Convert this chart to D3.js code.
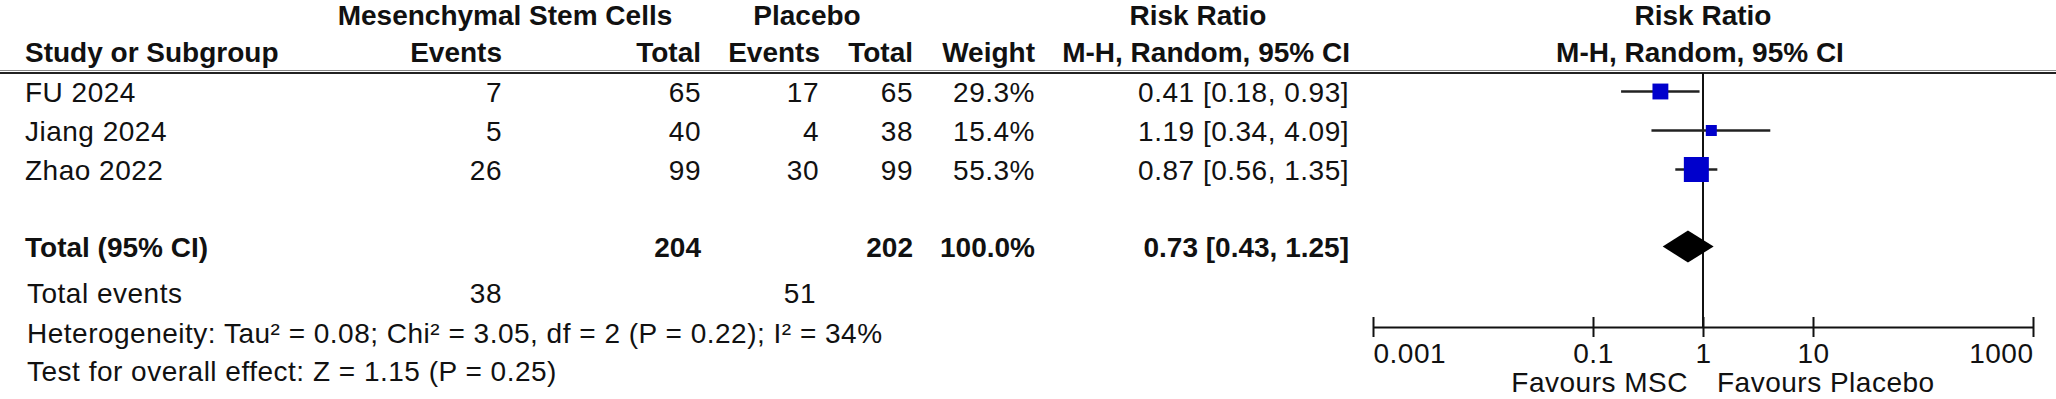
<!DOCTYPE html>
<html><head><meta charset="utf-8">
<script src="https://cdn.jsdelivr.net/npm/d3@7"></script>
<style>
html,body{margin:0;padding:0;background:#fff;}
svg text{font-family:"Liberation Sans",Arial,sans-serif;font-size:28px;fill:#111;letter-spacing:0.5px;}
svg text.b{font-weight:bold;letter-spacing:0;}
</style></head><body>
<svg id="c" width="2056" height="399"></svg>
<script>
// ---- data ----
const studies   = ["FU 2024", "Jiang 2024", "Zhao 2022"];
const expEvents = [7, 5, 26];
const expTotal  = [65, 40, 99];
const ctlEvents = [17, 4, 30];
const ctlTotal  = [65, 38, 99];
const weights   = [29.3, 15.4, 55.3];
const rr        = [0.41, 1.19, 0.87];
const ciLow     = [0.18, 0.34, 0.56];
const ciHigh    = [0.93, 4.09, 1.35];
const pooledRR  = [0.73, 0.43, 1.25];          // estimate, lower, upper
const totals    = [204, 202];                  // exp total, ctl total
const totalWeight = 100.0;
const totalEvents = [38, 51];
const heterogeneityText = "Heterogeneity: Tau\u00B2 = 0.08; Chi\u00B2 = 3.05, df = 2 (P = 0.22); I\u00B2 = 34%";
const overallText = "Test for overall effect: Z = 1.15 (P = 0.25)";
const tickValues = [0.001, 0.1, 1, 10, 1000];
const tickLabels = ["0.001", "0.1", "1", "10", "1000"];
const favours = ["Favours MSC", "Favours Placebo"];

// ---- layout ----
const svg = d3.select("#c");
const x = d3.scaleLog().domain([0.001, 1000]).range([1373, 2033]);
const y = d3.scaleLinear().domain([0, 1]).range([91.5, 130.5]);
const box = d3.scaleLinear().domain([15.4, 55.3]).range([11, 25]);
const axisY = 327;
const col = {study: 25, expE: 502, expT: 701, ctlE: 819, ctlT: 913, w: 1035, ci: 1349};
const f2 = d3.format(".2f"), f1 = d3.format(".1f");

function txt(s, xx, yy, anchor, bold) {
  svg.append("text").attr("x", xx).attr("y", yy)
    .attr("text-anchor", anchor || "start")
    .attr("class", bold ? "b" : null).text(s);
}

// headers
txt("Mesenchymal Stem Cells", 505, 25, "middle", true);
txt("Placebo", 807, 25, "middle", true);
txt("Risk Ratio", 1198, 25, "middle", true);
txt("Risk Ratio", x(1), 25, "middle", true);
txt("Study or Subgroup", col.study, 62, "start", true);
txt("Events", col.expE, 62, "end", true);
txt("Total", col.expT, 62, "end", true);
txt("Events", col.ctlE + 1, 62, "end", true);
txt("Total", col.ctlT, 62, "end", true);
txt("Weight", col.w, 62, "end", true);
txt("M-H, Random, 95% CI", col.ci + 1, 62, "end", true);
txt("M-H, Random, 95% CI", x(1) - 3, 62, "middle", true);

// double rule
svg.append("line").attr("x1", 0).attr("x2", 2056).attr("y1", 70.5).attr("y2", 70.5)
  .attr("stroke", "#888").attr("stroke-width", 1);
svg.append("line").attr("x1", 0).attr("x2", 2056).attr("y1", 73).attr("y2", 73)
  .attr("stroke", "#222").attr("stroke-width", 2);

// null line
svg.append("line").attr("x1", x(1)).attr("x2", x(1)).attr("y1", 73).attr("y2", axisY)
  .attr("stroke", "#111").attr("stroke-width", 2);

// study rows
studies.forEach((s, i) => {
  const yc = y(i), bl = yc + 10;
  txt(s, col.study, bl);
  txt(expEvents[i], col.expE, bl, "end");
  txt(expTotal[i], col.expT, bl, "end");
  txt(ctlEvents[i], col.ctlE, bl, "end");
  txt(ctlTotal[i], col.ctlT, bl, "end");
  txt(f1(weights[i]) + "%", col.w, bl, "end");
  txt(`${f2(rr[i])} [${f2(ciLow[i])}, ${f2(ciHigh[i])}]`, col.ci, bl, "end");
  svg.append("line").attr("x1", x(ciLow[i])).attr("x2", x(ciHigh[i]))
    .attr("y1", yc).attr("y2", yc).attr("stroke", "#222").attr("stroke-width", 2.5);
  const sz = box(weights[i]);
  svg.append("rect").attr("x", x(rr[i]) - sz / 2).attr("y", yc - sz / 2)
    .attr("width", sz).attr("height", sz).attr("fill", "#0000cc");
});

// total row
const yt = y(4) - 1, blt = yt + 10;
txt("Total (95% CI)", col.study, blt, "start", true);
txt(totals[0], col.expT, blt, "end", true);
txt(totals[1], col.ctlT, blt, "end", true);
txt(f1(totalWeight) + "%", col.w, blt, "end", true);
txt(`${f2(pooledRR[0])} [${f2(pooledRR[1])}, ${f2(pooledRR[2])}]`, col.ci, blt, "end", true);
const dh = 16;
svg.append("path")
  .attr("d", `M${x(pooledRR[1])},${yt} L${x(pooledRR[0])},${yt - dh} L${x(pooledRR[2])},${yt} L${x(pooledRR[0])},${yt + dh} Z`)
  .attr("fill", "#000");

// footer
txt("Total events", 27, 303);
txt(totalEvents[0], col.expE, 303, "end");
txt(totalEvents[1], col.ctlE - 3, 303, "end");
txt(heterogeneityText, 27, 343);
txt(overallText, 27, 381);

// axis
const ax = d3.axisBottom(x).tickValues(tickValues)
  .tickFormat((d, i) => tickLabels[i]).tickSize(10).tickSizeOuter(0);
const g = svg.append("g").attr("transform", `translate(0,${axisY})`).call(ax)
  .attr("font-size", null).attr("font-family", null);
g.select(".domain").attr("stroke", "#111").attr("stroke-width", 2);
g.selectAll(".tick line").attr("y1", -10).attr("y2", 10).attr("stroke", "#111").attr("stroke-width", 2);
g.selectAll(".tick text").attr("dy", null).attr("y", 36)
  .attr("text-anchor", (d, i, n) => i === 0 ? "start" : (i === n.length - 1 ? "end" : "middle"));

txt(favours[0], x(1) - 15, 392, "end");
txt(favours[1], x(1) + 14, 392, "start");
</script>
</body></html>
